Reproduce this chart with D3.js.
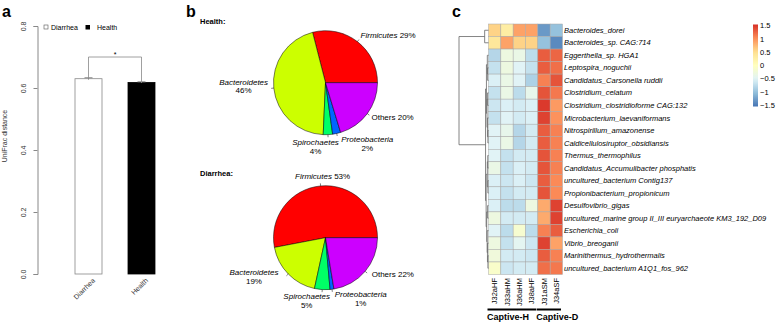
<!DOCTYPE html>
<html>
<head>
<meta charset="utf-8">
<script src="https://cdn.jsdelivr.net/npm/d3@7"></script>
<style>
  body { margin: 0; background: #fff; }
  svg { font-family: "Liberation Sans", Arial, sans-serif; }
</style>
</head>
<body>
<svg id="fig" width="777" height="322"></svg>
<script>
// ---- panel a data
const groups = ["Diarrhea", "Health"];
const unifrac = [0.630, 0.618];
const unifracErr = [0.003, 0.002];
const yTicks = [0, 0.2, 0.4, 0.6, 0.8];

// ---- panel b data
const phyla = ["Firmicutes", "Bacteroidetes", "Spirochaetes", "Proteobacteria", "Others"];
const phylaColors = ["#FF0000", "#CCFF00", "#00FF66", "#0066FF", "#CC00FF"];
const healthShare = [0.29, 0.453, 0.029, 0.025, 0.203];
const healthPct = ["29%", "46%", "4%", "2%", "20%"];
const diarrheaShare = [0.53, 0.186, 0.048, 0.012, 0.224];
const diarrheaPct = ["53%", "19%", "5%", "1%", "22%"];

// ---- panel c data
const samples = ["J32aHF", "J33aHM", "J36aHM", "J38aHF", "J31aSM", "J34aSF"];
const species = [
  "Bacteroides_dorei", "Bacteroides_sp. CAG:714", "Eggerthella_sp. HGA1", "Leptospira_noguchii",
  "Candidatus_Carsonella ruddii", "Clostridium_celatum", "Clostridium_clostridioforme CAG:132",
  "Microbacterium_laevaniformans", "Nitrospirillum_amazonense", "Caldicellulosiruptor_obsidiansis",
  "Thermus_thermophilus", "Candidatus_Accumulibacter phosphatis", "uncultured_bacterium Contig137",
  "Propionibacterium_propionicum", "Desulfovibrio_gigas",
  "uncultured_marine group II_III euryarchaeote KM3_192_D09", "Escherichia_coli",
  "Vibrio_breoganii", "Marinithermus_hydrothermalis", "uncultured_bacterium A1Q1_fos_962"
];
const zscores = [
  [0.6, 0.3, 0.9, 0.9, -1.3, -1.0],
  [0.4, 0.9, 0.6, 0.6, -1.0, -1.4],
  [-0.8, -0.3, -0.35, -0.75, 1.3, 1.25],
  [-0.7, -0.3, -0.5, -0.7, 1.3, 1.2],
  [-0.55, -0.35, -0.5, -0.85, 1.1, 1.35],
  [-0.7, -0.35, -0.75, -0.4, 1.35, 1.15],
  [-0.65, -0.55, -0.6, -0.55, 1.5, 0.95],
  [-0.7, -0.5, -0.6, -0.55, 1.45, 1.0],
  [-0.5, -0.4, -0.8, -0.6, 1.3, 1.1],
  [-0.5, -0.35, -0.8, -0.6, 1.3, 1.1],
  [-0.5, -0.7, -0.6, -0.6, 1.35, 1.1],
  [-0.35, -0.7, -0.55, -0.6, 1.35, 1.1],
  [-0.55, -0.65, -0.55, -0.65, 1.3, 1.05],
  [-0.55, -0.7, -0.6, -0.6, 1.35, 1.05],
  [-0.55, -0.75, -0.75, -0.3, 0.85, 1.45],
  [-0.3, -0.6, -0.6, -0.6, 0.85, 1.45],
  [-0.5, -0.75, -0.15, -0.75, 1.1, 1.3],
  [-0.3, -0.7, -0.45, -0.65, 1.45, 0.9],
  [-0.25, -0.6, -0.6, -0.65, 1.3, 1.1],
  [-0.1, -0.65, -0.6, -0.6, 1.2, 1.15]
];
// row dendrogram (merge heights, leaves are row indices)
const rowTree = {h: 1, c: [
  {h: 0.13, c: [0, 1]},
  {h: 0.1, c: [
    {h: 0.07, c: [
      {h: 0.04, c: [2, {h: 0.03, c: [3, 4]}]},
      {h: 0.05, c: [{h: 0.03, c: [5, 6]}, {h: 0.035, c: [7, {h: 0.02, c: [8, 9]}]}]}
    ]},
    {h: 0.08, c: [
      {h: 0.04, c: [{h: 0.025, c: [10, 11]}, {h: 0.02, c: [12, 13]}]},
      {h: 0.06, c: [{h: 0.03, c: [14, 15]}, {h: 0.045, c: [16, {h: 0.035, c: [17, {h: 0.02, c: [18, 19]}]}]}]}
    ]}
  ]}
]};
const groupBars = [
  {name: "Captive-H", from: "J32aHF", to: "J38aHF"},
  {name: "Captive-D", from: "J31aSM", to: "J34aSF"}
];
const legendTicks = [1.5, 1, 0.5, 0, -0.5, -1, -1.5];

const svg = d3.select("#fig");

// panel letters
[["a", 2, 17], ["b", 186, 17], ["c", 452, 17]].forEach(([t, x, y]) => {
  svg.append("text").attr("x", x).attr("y", y)
    .attr("font-size", "16px").attr("font-weight", "bold").text(t);
});

// =================== panel a: bar chart ===================
function drawBars() {
  const g = svg.append("g");
  const y = d3.scaleLinear().domain([0, 0.8]).range([274, 26]);
  const x = d3.scaleBand().domain(groups).range([62, 168]).padding(0);

  const axis = g.append("g").attr("transform", "translate(37.5,0)")
    .call(d3.axisLeft(y).tickValues(yTicks).tickSize(4).tickFormat(d3.format(".1f")));
  axis.select(".domain").attr("stroke", "#888");
  axis.selectAll(".tick line").attr("stroke", "#888");
  axis.selectAll(".tick text")
    .attr("font-size", "7px").attr("fill", "#333")
    .attr("text-anchor", "middle")
    .attr("x", 0).attr("dy", 0)
    .attr("transform", "translate(-12,0) rotate(-90)");

  g.append("text").attr("transform", "translate(7,136) rotate(-90)")
    .attr("text-anchor", "middle").attr("font-size", "7px").attr("fill", "#333")
    .text("UniFrac distance");

  const barW = 27;
  groups.forEach((grp, i) => {
    const cx = x(grp) + x.bandwidth() / 2;
    g.append("rect")
      .attr("x", cx - barW / 2).attr("y", y(unifrac[i]))
      .attr("width", barW).attr("height", y(0) - y(unifrac[i]))
      .attr("fill", i === 0 ? "#fff" : "#000")
      .attr("stroke", i === 0 ? "#888" : "#000").attr("stroke-width", 0.8);
    // error bar
    const e1 = y(unifrac[i] + unifracErr[i]), e0 = y(unifrac[i] - unifracErr[i]);
    g.append("line").attr("x1", cx).attr("x2", cx).attr("y1", e1).attr("y2", e0).attr("stroke", "#888");
    g.append("line").attr("x1", cx - 4).attr("x2", cx + 4).attr("y1", e1).attr("y2", e1).attr("stroke", "#888");
    // x label
    g.append("text").attr("transform", `translate(${cx + 7},281) rotate(-45)`)
      .attr("text-anchor", "end").attr("font-size", "7px").attr("fill", "#333").text(grp);
  });

  // significance bracket
  const c0 = x(groups[0]) + x.bandwidth() / 2, c1 = x(groups[1]) + x.bandwidth() / 2;
  const top = y(0.7);
  g.append("path")
    .attr("d", `M${c0},${y(unifrac[0] + unifracErr[0])}V${top}H${c1}V${y(unifrac[1] + unifracErr[1])}`)
    .attr("fill", "none").attr("stroke", "#888").attr("stroke-width", 0.8);
  g.append("text").attr("x", (c0 + c1) / 2).attr("y", top - 0.5)
    .attr("text-anchor", "middle").attr("font-size", "7px").text("*");

  // legend
  const lg = g.append("g").attr("font-size", "7px");
  lg.append("rect").attr("x", 44).attr("y", 25).attr("width", 4).attr("height", 4)
    .attr("fill", "#fff").attr("stroke", "#555").attr("stroke-width", 0.6);
  lg.append("text").attr("x", 51).attr("y", 30).text("Diarrhea");
  lg.append("rect").attr("x", 85.5).attr("y", 25).attr("width", 4.5).attr("height", 4.5).attr("fill", "#000");
  lg.append("text").attr("x", 97).attr("y", 30).text("Health");
}
drawBars();

// =================== panel b: pies ===================
const healthLayout = [
  {anchor: "start", dx: 0, dy: 0, two: false},
  {anchor: "middle", dx: -25, dy: -4, two: true},
  {anchor: "middle", dx: -12.7, dy: 5.6, two: true},
  {anchor: "middle", dx: 29.5, dy: 3.5, two: true},
  {anchor: "start", dx: 0, dy: 3, two: false}
];
const diarrheaLayout = [
  {anchor: "middle", dx: 2.5, dy: -1.5, two: false},
  {anchor: "middle", dx: -30.6, dy: -2.6, two: true},
  {anchor: "middle", dx: -15.2, dy: 4.7, two: true},
  {anchor: "middle", dx: 28, dy: 2.6, two: true},
  {anchor: "start", dx: 2.6, dy: 2, two: false}
];

function drawPie(title, titleY, cx, cy, shares, pcts, layout) {
  const r = 52;
  const g = svg.append("g");
  g.append("text").attr("x", 200).attr("y", titleY).attr("font-size", "7.5px")
    .attr("font-weight", "bold").text(title);

  const pie = d3.pie().sort(null).value(d => d)
    .startAngle(Math.PI / 2).endAngle(Math.PI / 2 - 2 * Math.PI);
  const arcs = pie(shares);
  const arc = d3.arc().innerRadius(0).outerRadius(r);

  const pg = g.append("g").attr("transform", `translate(${cx},${cy})`);
  pg.selectAll("path").data(arcs).join("path")
    .attr("d", arc)
    .attr("fill", (d, i) => phylaColors[i])
    .attr("stroke", "#000").attr("stroke-width", 0.5);

  arcs.forEach((a, i) => {
    const m = (a.startAngle + a.endAngle) / 2;
    const sx = Math.sin(m), sy = -Math.cos(m);
    pg.append("line")
      .attr("x1", sx * r).attr("y1", sy * r).attr("x2", sx * r * 1.05).attr("y2", sy * r * 1.05)
      .attr("stroke", "#000").attr("stroke-width", 0.5);
    const L = layout[i];
    const px = cx + sx * r * 1.1 + L.dx, py = cy + sy * r * 1.1 + L.dy;
    const t = g.append("text").attr("x", px).attr("y", py)
      .attr("text-anchor", L.anchor).attr("font-size", "8px");
    t.append("tspan").attr("font-style", phyla[i] === "Others" ? "normal" : "italic").text(phyla[i]);
    if (L.two) {
      t.append("tspan").attr("x", px).attr("dy", 8.5).text(pcts[i]);
    } else {
      t.append("tspan").text(" " + pcts[i]);
    }
  });
}
drawPie("Health:", 24, 325.5, 82.7, healthShare, healthPct, healthLayout);
drawPie("Diarrhea:", 176, 325.5, 237.7, diarrheaShare, diarrheaPct, diarrheaLayout);

// =================== panel c: heatmap ===================
function drawHeatmap() {
  const g = svg.append("g");
  const x = d3.scaleBand().domain(samples).range([488.5, 562.5]);
  const y = d3.scaleBand().domain(species).range([24, 274.5]);
  const palette = ["#4575B4", "#91BFDB", "#E0F3F8", "#FFFFBF", "#FEE090", "#FC8D59", "#D73027"];
  const vmin = -1.55, vmax = 1.55;
  const color = d3.scaleLinear()
    .domain(palette.map((c, i) => vmin + i * (vmax - vmin) / (palette.length - 1)))
    .range(palette).clamp(true);

  const cells = [];
  zscores.forEach((row, ri) => row.forEach((v, ci) => cells.push({r: species[ri], c: samples[ci], v})));
  g.selectAll("rect.cell").data(cells).join("rect")
    .attr("class", "cell")
    .attr("x", d => x(d.c)).attr("y", d => y(d.r))
    .attr("width", x.bandwidth()).attr("height", y.bandwidth())
    .attr("fill", d => color(d.v))
    .attr("stroke", "#a8a8a8").attr("stroke-width", 0.5);

  // row labels
  g.selectAll("text.row").data(species).join("text")
    .attr("class", "row")
    .attr("x", 564).attr("y", d => y(d) + y.bandwidth() / 2 + 2.6)
    .attr("font-size", "7.5px").attr("font-style", "italic").text(d => d);

  // column labels
  g.selectAll("text.col").data(samples).join("text")
    .attr("class", "col")
    .attr("transform", d => `translate(${x(d) + x.bandwidth() / 2 + 2.6},278) rotate(-90)`)
    .attr("text-anchor", "end").attr("font-size", "7.5px").text(d => d);

  // group bars
  groupBars.forEach(gb => {
    const x0 = x(gb.from), x1 = x(gb.to) + x.bandwidth();
    g.append("line").attr("x1", x0 - 1).attr("x2", x1 - 1.5).attr("y1", 309.5).attr("y2", 309.5)
      .attr("stroke", "#000").attr("stroke-width", 2);
    g.append("text").attr("x", x0 - 1.5).attr("y", 320).attr("font-size", "9px")
      .attr("font-weight", "bold").text(gb.name);
  });

  // dendrogram
  const hx = d3.scaleLinear().domain([0, 1]).range([488.5, 459]);
  function walk(node) {
    if (typeof node === "number") {
      return {x: hx(0), y: y(species[node]) + y.bandwidth() / 2};
    }
    const kids = node.c.map(walk);
    const nx = hx(node.h);
    const ys = kids.map(k => k.y);
    g.append("line").attr("x1", nx).attr("x2", nx)
      .attr("y1", d3.min(ys)).attr("y2", d3.max(ys))
      .attr("stroke", "#666").attr("stroke-width", 0.8);
    kids.forEach(k => {
      g.append("line").attr("x1", nx).attr("x2", k.x).attr("y1", k.y).attr("y2", k.y)
        .attr("stroke", "#666").attr("stroke-width", 0.8);
    });
    return {x: nx, y: (d3.min(ys) + d3.max(ys)) / 2};
  }
  walk(rowTree);

  // colour legend
  const ly = d3.scaleLinear().domain([vmin, vmax]).range([106.5, 24.5]);
  const grad = svg.append("defs").append("linearGradient")
    .attr("id", "hm-grad").attr("x1", "0%").attr("x2", "0%").attr("y1", "100%").attr("y2", "0%");
  d3.range(0, 1.0001, 0.05).forEach(t => {
    grad.append("stop").attr("offset", `${t * 100}%`).attr("stop-color", color(vmin + t * (vmax - vmin)));
  });
  g.append("rect").attr("x", 753).attr("y", ly(vmax)).attr("width", 5)
    .attr("height", ly(vmin) - ly(vmax)).attr("fill", "url(#hm-grad)");
  g.selectAll("text.lt").data(legendTicks).join("text")
    .attr("class", "lt")
    .attr("x", 760).attr("y", d => ly(d) + 2.6)
    .attr("font-size", "7.5px").text(d => d < 0 ? "\u2212" + Math.abs(d) : d);
}
drawHeatmap();
</script>
</body>
</html>
